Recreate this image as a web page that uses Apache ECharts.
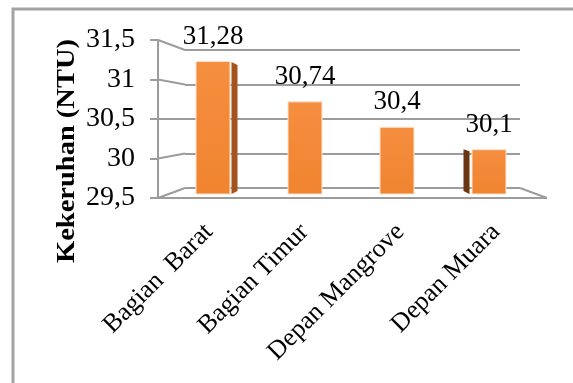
<!DOCTYPE html>
<html>
<head>
    <meta charset="UTF-8">
    <title>Kekeruhan</title>
    <script src="https://cdn.jsdelivr.net/npm/echarts@6/dist/echarts.min.js"></script>
    <style>
        html, body { margin: 0; padding: 0; background: #fff; }
        #chart { width: 573px; height: 383px; }
    </style>
</head>
<body>
<div id="chart"></div>
<script>
    // data
    var CATEGORIES = ['Bagian  Barat', 'Bagian Timur', 'Depan Mangrove', 'Depan Muara'];
    var VALUES = [31.28, 30.74, 30.4, 30.1];
    var Y_MIN = 29.5, Y_MAX = 31.5, Y_STEP = 0.5;

    // which bars show a 3D side face (style only)
    var SIDE_FACES = { 0: { side: 'right', color: '#A4531F' }, 3: { side: 'left', color: '#6A3512' } };

    var FONT = '"Liberation Serif", "Times New Roman", serif';
    var GRID_GRAY = '#9c9c9c';

    function comma(v) { return String(v).replace('.', ','); }

    var chart = echarts.init(document.getElementById('chart'));

    var option = {
        animation: false,
        backgroundColor: '#fff',
        grid: [
            // 0: front (side wall) axis
            { left: 158, top: 40, width: 27, height: 158 },
            // 1: back wall
            { left: 185, top: 50, width: 335, height: 138 },
            // 2: bars
            { left: 167, top: 44.6, width: 368, height: 149.4 },
            // 3: category labels
            { left: 161, top: 40, width: 383, height: 158 }
        ],
        xAxis: [
            { gridIndex: 0, type: 'value', min: 0, max: 1, show: false },
            { gridIndex: 1, type: 'value', min: 0, max: 1, show: false },
            { gridIndex: 2, type: 'category', data: CATEGORIES, show: false },
            {
                gridIndex: 3, type: 'category', data: CATEGORIES,
                axisLine: { show: false }, axisTick: { show: false },
                axisLabel: { rotate: 45, margin: 30, interval: 0, color: '#000', fontFamily: FONT, fontSize: 26 }
            }
        ],
        yAxis: [
            {
                gridIndex: 0, type: 'value', min: Y_MIN, max: Y_MAX, interval: Y_STEP,
                axisLine: { show: true, lineStyle: { color: GRID_GRAY, width: 2 } },
                axisTick: { show: true, length: 8, lineStyle: { color: GRID_GRAY, width: 2 } },
                axisLabel: { margin: 23, color: '#000', fontFamily: FONT, fontSize: 28, formatter: comma },
                splitLine: { show: false }
            },
            {
                gridIndex: 1, type: 'value', min: Y_MIN, max: Y_MAX, interval: Y_STEP,
                axisLine: { show: false }, axisTick: { show: false }, axisLabel: { show: false },
                splitLine: { show: true, lineStyle: { color: GRID_GRAY, width: 2 } }
            },
            { gridIndex: 2, type: 'value', min: Y_MIN, max: Y_MAX, show: false },
            { gridIndex: 3, type: 'value', show: false }
        ],
        series: [
            {
                type: 'bar', xAxisIndex: 2, yAxisIndex: 2,
                data: VALUES, barWidth: 35, z: 5,
                itemStyle: {
                    color: new echarts.graphic.LinearGradient(0, 0, 0, 1, [
                        { offset: 0, color: '#F68E40' }, { offset: 1, color: '#F0842F' }
                    ]),
                    borderColor: '#FCE2CC', borderWidth: 1
                },
                label: {
                    show: true, position: 'top', distance: 11,
                    color: '#000', fontFamily: FONT, fontSize: 27,
                    formatter: function (p) { return comma(p.value); }
                }
            },
            {
                type: 'custom', xAxisIndex: 2, yAxisIndex: 2, z: 4,
                data: VALUES.map(function (v, i) { return [i, v]; }),
                renderItem: function (params, api) {
                    var face = SIDE_FACES[params.dataIndex];
                    if (!face) return null;
                    var top = api.coord([api.value(0), api.value(1)]);
                    var base = api.coord([api.value(0), Y_MIN]);
                    var half = 17.5, d = 6, pts;
                    if (face.side === 'right') {
                        var x0 = top[0] + half + 1;
                        pts = [[x0, top[1] + 1], [x0 + d, top[1] + 4], [x0 + d, base[1] - 3], [x0, base[1]]];
                    } else {
                        var x1 = top[0] - half - 2;
                        pts = [[x1 - d, top[1]], [x1, top[1] + 2], [x1, base[1]], [x1 - d, base[1] - 3]];
                    }
                    return { type: 'polygon', shape: { points: pts }, style: { fill: face.color } };
                }
            }
        ]
    };
    chart.setOption(option);

    // perspective lines between the front axis and the back wall
    var xFL = chart.convertToPixel({ xAxisIndex: 0 }, 0);
    var xFR = chart.convertToPixel({ xAxisIndex: 0 }, 1);
    var xBR = chart.convertToPixel({ xAxisIndex: 1 }, 1);
    var graphics = [];
    for (var v = Y_MIN; v <= Y_MAX + 1e-9; v += Y_STEP) {
        graphics.push({
            type: 'line', z: 1,
            shape: { x1: xFL, y1: chart.convertToPixel({ yAxisIndex: 0 }, v), x2: xFR, y2: chart.convertToPixel({ yAxisIndex: 1 }, v) },
            style: { stroke: GRID_GRAY, lineWidth: 2 }
        });
    }
    var yFront = chart.convertToPixel({ yAxisIndex: 0 }, Y_MIN);
    var yBack = chart.convertToPixel({ yAxisIndex: 1 }, Y_MIN);
    var xFrontEnd = xBR + (xFR - xFL);
    graphics.push({ type: 'line', z: 1, shape: { x1: xFL, y1: yFront, x2: xFrontEnd, y2: yFront }, style: { stroke: GRID_GRAY, lineWidth: 2 } });
    graphics.push({ type: 'line', z: 1, shape: { x1: xBR, y1: yBack, x2: xFrontEnd, y2: yFront }, style: { stroke: GRID_GRAY, lineWidth: 2 } });
    // axis title
    graphics.push({
        type: 'text', x: 68, y: 151, rotation: Math.PI / 2, scaleX: 1.14,
        style: { text: 'Kekeruhan (NTU)', font: 'bold 25px ' + FONT, fill: '#000', align: 'center', verticalAlign: 'middle' }
    });
    // outer frame
    graphics.push({
        type: 'rect', z: 0, shape: { x: 13, y: 9, width: 700, height: 500 },
        style: { fill: 'none', stroke: '#a3a3a3', lineWidth: 3 }
    });
    chart.setOption({ graphic: graphics });
</script>
</body>
</html>
